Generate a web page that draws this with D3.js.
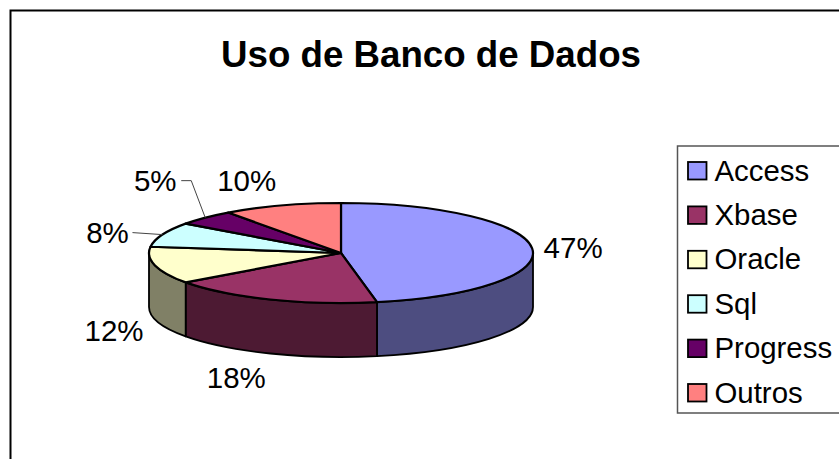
<!DOCTYPE html>
<html>
<head>
<meta charset="utf-8">
<script src="https://cdn.jsdelivr.net/npm/d3@7"></script>
<style>
  html, body { margin: 0; padding: 0; background: #fff; }
  svg { display: block; }
  text { font-family: "Liberation Sans", Arial, sans-serif; fill: #000; }
</style>
</head>
<body>
<svg id="chart" width="839" height="459"></svg>
<script>
const chartTitle = "Uso de Banco de Dados";
const categories = ["Access", "Xbase", "Oracle", "Sql", "Progress", "Outros"];
const shares = [47, 18, 12, 8, 5, 10];
const topColors = ["#9999FF", "#993366", "#FFFFCC", "#CCFFFF", "#660066", "#FF8080"];
const wallColors = ["#4D4D80", "#4D1A33", "#808066", "#668080", "#330033", "#804040"];
// Label centre relative to the slice's outer rim point at its mid-angle.
const labelNudgeX = [41, -34, -41, -55, -50, -35];
const labelNudgeY = [-1, 78, 65, -2, -37, -25];
const hasLeader = [false, false, false, true, true, false];

const svg = d3.select("#chart");
const cx = 341, cy = 253, rx = 192, ry = 50, depth = 54;

// Tilted disc: unit-circle coordinates mapped onto the flattened ellipse.
const px = d3.scaleLinear().domain([-1, 1]).range([cx - rx, cx + rx]);
const py = d3.scaleLinear().domain([-1, 1]).range([cy - ry, cy + ry]);
const rimX = a => px(Math.sin(a));
const rimY = a => py(-Math.cos(a));

const arcs = d3.pie().sort(null).value(d => d)(shares);

// Outer frame, running off the right and bottom edges.
svg.append("rect").attr("x", 10.5).attr("y", 10.5).attr("width", 900).attr("height", 600)
  .attr("fill", "#fff").attr("stroke", "#000").attr("stroke-width", 2);

svg.append("text").attr("x", 431).attr("y", 67).attr("text-anchor", "middle")
  .attr("font-size", 36.7).attr("font-weight", "bold").text(chartTitle);

// Front wall: only the part of each slice facing the viewer (right to left along the bottom).
const front = [Math.PI / 2, Math.PI * 1.5];
const walls = svg.append("g");
arcs.forEach((d, i) => {
  const a0 = Math.max(d.startAngle, front[0]);
  const a1 = Math.min(d.endAngle, front[1]);
  if (a1 <= a0) return;
  const sweep = `A${rx},${ry} 0 0 1 ${rimX(a1)},${rimY(a1)}`;
  const back = `A${rx},${ry} 0 0 0 ${rimX(a0)},${rimY(a0) + depth}`;
  walls.append("path")
    .attr("d", `M${rimX(a0)},${rimY(a0)} ${sweep} L${rimX(a1)},${rimY(a1) + depth} ${back} Z`)
    .attr("fill", wallColors[i]).attr("stroke", "#000").attr("stroke-width", 1.8)
    .attr("stroke-linejoin", "round");
});

// Top face of the disc.
const tops = svg.append("g");
arcs.forEach((d, i) => {
  const large = d.endAngle - d.startAngle > Math.PI ? 1 : 0;
  tops.append("path")
    .attr("d", `M${cx},${cy} L${rimX(d.startAngle)},${rimY(d.startAngle)} A${rx},${ry} 0 ${large} 1 ${rimX(d.endAngle)},${rimY(d.endAngle)} Z`)
    .attr("fill", topColors[i]).attr("stroke", "#000").attr("stroke-width", 2.2)
    .attr("stroke-linejoin", "round");
});

// Percentage labels, with thin leader lines for the small slices.
const total = d3.sum(shares);
arcs.forEach((d, i) => {
  const mid = (d.startAngle + d.endAngle) / 2;
  const ax = rimX(mid), ay = rimY(mid);
  const lx = ax + labelNudgeX[i], ly = ay + labelNudgeY[i];
  if (hasLeader[i]) {
    const pts = i === 4
      ? [[lx + 26, ly], [lx + 36, ly], [ax, ay]]
      : [[lx + 25, ly + 0], [ax, ay]];
    svg.append("path").attr("d", d3.line()(pts)).attr("fill", "none")
      .attr("stroke", "#444").attr("stroke-width", 1);
  }
  svg.append("text").attr("x", lx).attr("y", ly).attr("dy", "0.36em")
    .attr("text-anchor", "middle").attr("font-size", 29.5)
    .text(Math.round(d.value / total * 100) + "%");
});

// Legend.
const legendX = 677.5, legendY = 146, rowH = 44.4;
const legend = svg.append("g");
legend.append("rect").attr("x", legendX).attr("y", legendY).attr("width", 300).attr("height", 267)
  .attr("fill", "#fff").attr("stroke", "#555").attr("stroke-width", 1.5);
categories.forEach((name, i) => {
  const y = legendY + 24 + i * rowH;
  legend.append("rect").attr("x", 688).attr("y", y - 8).attr("width", 18.5).attr("height", 17.5)
    .attr("fill", topColors[i]).attr("stroke", "#000").attr("stroke-width", 1.8);
  legend.append("text").attr("x", 714.5).attr("y", y).attr("dy", "0.36em")
    .attr("font-size", 29.4).text(name);
});
</script>
</body>
</html>
